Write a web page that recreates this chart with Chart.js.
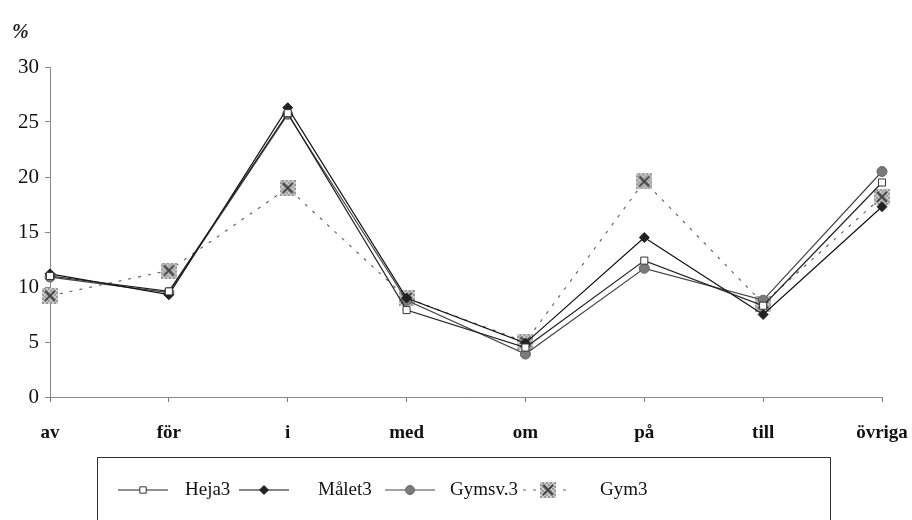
<!DOCTYPE html>
<html>
<head>
<meta charset="utf-8">
<script src="https://cdn.jsdelivr.net/npm/chart.js@4/dist/chart.umd.min.js"></script>
<style>
  body { margin: 0; background: #fff; }
  #wrap { position: relative; width: 912px; height: 520px; }
  #pct { position: absolute; left: 12px; top: 20px; font: italic bold 20px "Liberation Serif", serif; color: #222; }
</style>
</head>
<body>
<div id="wrap">
  <canvas id="myChart" width="912" height="520"></canvas>
  <div id="pct">%</div>
</div>
<script>
let categories = ['av', 'för', 'i', 'med', 'om', 'på', 'till', 'övriga'];
let heja3   = [11.0, 9.6, 25.8, 7.9, 4.5, 12.4, 8.3, 19.5];
let malet3  = [11.2, 9.3, 26.3, 9.0, 4.9, 14.5, 7.5, 17.3];
let gymsv3  = [10.9, 9.5, 25.7, 8.8, 3.9, 11.7, 8.8, 20.5];
let gym3    = [9.2, 11.5, 19.0, 9.0, 5.0, 19.6, 8.5, 18.2];
let seriesNames = ['Heja3', 'Målet3', 'Gymsv.3', 'Gym3'];
let yTicks = [0, 5, 10, 15, 20, 25, 30];

// hatched grey square with a cross, like the scanned Gym3 marker
function makeCrossMarker(size) {
  let c = document.createElement('canvas');
  c.width = size; c.height = size;
  let g = c.getContext('2d');
  for (let y = 0; y < size; y += 2) {
    for (let x = 0; x < size; x += 2) {
      g.fillStyle = ((x + y) / 2) % 2 ? '#9a9a9a' : '#cfcfcf';
      g.fillRect(x, y, 2, 2);
    }
  }
  g.strokeStyle = '#444';
  g.lineWidth = 2;
  g.beginPath();
  g.moveTo(3, 3); g.lineTo(size - 3, size - 3);
  g.moveTo(size - 3, 3); g.lineTo(3, size - 3);
  g.stroke();
  return c;
}
let crossMarker = makeCrossMarker(16);

let legendPlugin = {
  id: 'boxLegend',
  afterDraw(chart) {
    let ctx = chart.ctx;
    ctx.save();
    ctx.strokeStyle = '#333';
    ctx.lineWidth = 1;
    ctx.strokeRect(97.5, 457.5, 733, 80);
    // marker centre and text start for each legend entry
    let items = [
      { x: 143, tx: 185 },
      { x: 264, tx: 318 },
      { x: 410, tx: 450 },
      { x: 548, tx: 600 }
    ];
    ctx.font = '19px "Liberation Serif", serif';
    ctx.textBaseline = 'middle';
    let y = 490;
    for (let i = 0; i < items.length; i++) {
      let ds = chart.data.datasets[i];
      ctx.strokeStyle = ds.borderColor;
      ctx.lineWidth = 1;
      ctx.setLineDash(ds.borderDash || []);
      ctx.beginPath();
      ctx.moveTo(items[i].x - 25, y);
      ctx.lineTo(items[i].x + 25, y);
      ctx.stroke();
      ctx.setLineDash([]);
      ctx.fillStyle = ds.pointBackgroundColor;
      ctx.strokeStyle = ds.pointBorderColor;
      Chart.helpers.drawPoint(ctx, {
        pointStyle: ds.pointStyle,
        radius: ds.pointStyle === crossMarker ? 8 : 4.5,
        rotation: 0,
        borderWidth: 1
      }, items[i].x, y);
      ctx.fillStyle = '#111';
      ctx.fillText(seriesNames[i], items[i].tx, y);
    }
    ctx.restore();
  }
};

function runGraph() {
  let ctx = document.getElementById('myChart').getContext('2d');
  let chart = new Chart(ctx, {
    type: 'line',
    data: {
      labels: categories,
      datasets: [
        {
          label: seriesNames[0], data: heja3,
          borderColor: '#222', borderWidth: 1.2,
          pointStyle: 'rect', pointRadius: 5,
          pointBackgroundColor: '#fff', pointBorderColor: '#333', pointBorderWidth: 1
        },
        {
          label: seriesNames[1], data: malet3,
          borderColor: '#111', borderWidth: 1.2,
          pointStyle: 'rectRot', pointRadius: 5,
          pointBackgroundColor: '#222', pointBorderColor: '#222', pointBorderWidth: 1
        },
        {
          label: seriesNames[2], data: gymsv3,
          borderColor: '#444', borderWidth: 1.2,
          pointStyle: 'circle', pointRadius: 5,
          pointBackgroundColor: '#7a7a7a', pointBorderColor: '#666', pointBorderWidth: 1
        },
        {
          label: seriesNames[3], data: gym3,
          borderColor: '#666', borderWidth: 1.2, borderDash: [3, 7],
          pointStyle: crossMarker, pointRadius: 8,
          pointBackgroundColor: '#aaa', pointBorderColor: '#444'
        }
      ]
    },
    options: {
      responsive: false,
      animation: false,
      layout: { padding: { top: 67, right: 30, bottom: 73, left: 0 } },
      plugins: { legend: { display: false }, tooltip: { enabled: false } },
      elements: { line: { tension: 0 } },
      scales: {
        x: {
          offset: false,
          grid: { drawOnChartArea: false, color: '#777', tickLength: 5 },
          border: { color: '#888', width: 1 },
          ticks: {
            color: '#111', padding: 20, maxRotation: 0, autoSkip: false,
            font: { family: '"Liberation Serif", serif', size: 19, weight: 'bold' }
          },
          afterFit(scale) {
            scale.height = 50;
            scale.paddingRight = 0; // let the last label hang into the margin
            scale.paddingLeft = 0;
          }
        },
        y: {
          min: 0, max: 30,
          afterBuildTicks(scale) { scale.ticks = yTicks.map(v => ({ value: v })); },
          grid: { drawOnChartArea: false, color: '#888', tickLength: 5 },
          border: { color: '#888', width: 1 },
          ticks: {
            color: '#111', padding: 6,
            font: { family: '"Liberation Serif", serif', size: 21 }
          },
          afterFit(scale) { scale.width = 50; }
        }
      }
    },
    plugins: [legendPlugin]
  });
  return chart;
}

let myChart = runGraph();
</script>
</body>
</html>
